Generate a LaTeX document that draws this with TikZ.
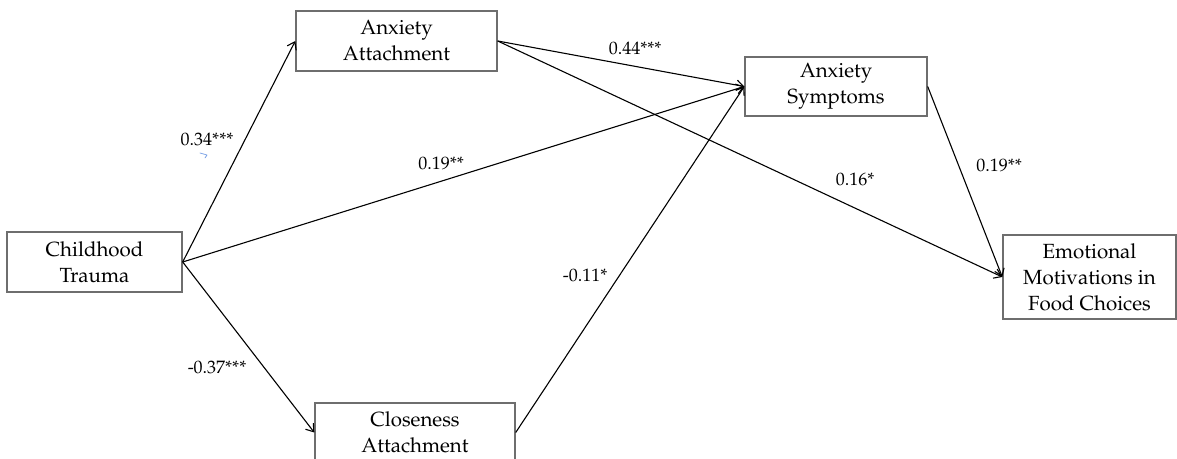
\documentclass[tikz,border=0pt]{standalone}
\usepackage[T1]{fontenc}
\usepackage{fontspec}
\usetikzlibrary{arrows.meta}
\IfFileExists{texgyrepagella-regular.otf}
  {\newfontfamily\pal[Extension=.otf,UprightFont=*-regular]{texgyrepagella}}
  {\IfFileExists{t1ppl.fd}
     {\newcommand\pal{\fontencoding{T1}\fontfamily{ppl}\selectfont}}
     {\newfontfamily\pal{Liberation Serif}}}
\definecolor{boxgray}{RGB}{110,110,110}
\definecolor{penblue}{RGB}{120,160,230}
\tikzset{
  box/.style={draw=boxgray, line width=1.4bp, inner sep=0pt, align=center,
    font=\pal\fontsize{20.5bp}{26bp}\selectfont, text=black},
  conn/.style={line width=1.1bp, -{Straight Barb[length=7bp,width=10bp,line width=1.1bp]}},
  lab/.style={inner sep=0pt, font=\pal\fontsize{18bp}{20bp}\selectfont},
}
\begin{document}
\begin{tikzpicture}[x=1bp,y=-1bp]
\useasboundingbox[fill=white] (0,0) rectangle (1177,459);
\clip (0,0) rectangle (1177,459);
\node[box, minimum width=175bp, minimum height=60bp] (ct) at (94.5,262) {Childhood\\Trauma};
\node[box, minimum width=201bp, minimum height=60bp] (aa) at (396.5,41) {Anxiety\\Attachment};
\node[box, minimum width=200bp, minimum height=59bp] (ca) at (415,432.5) {Closeness\\Attachment};
\node[box, minimum width=182bp, minimum height=59bp] (as) at (836,86.5) {Anxiety\\Symptoms};
\node[box, minimum width=173bp, minimum height=84bp] (em) at (1089.5,277) {Emotional\\Motivations in\\Food Choices};

\draw[conn] (ct.east) -- (aa.west);
\draw[conn] (ct.east) -- (ca.west);
\draw[conn] (ct.east) -- (as.west);
\draw[conn] (aa.east) -- (as.west);
\draw[conn] (aa.east) -- (em.west);
\draw[conn] (ca.east) -- (as.west);
\draw[conn] (as.east) -- (em.west);

\node[lab] (l1) at (207,139) {0.34***};
\node[lab] (l2) at (441,163) {0.19**};
\node[lab] (l3) at (635,48) {0.44***};
\node[lab] (l4) at (855,179) {0.16*};
\node[lab] (l5) at (999,165) {0.19**};
\node[lab] (l6) at (585,275) {-0.11*};
\node[lab] (l7) at (217,367) {-0.37***};

\draw[penblue, line width=0.7bp, line cap=round, line join=round] (200,153) -- (207,155) -- (205,158);
\end{tikzpicture}
\end{document}
